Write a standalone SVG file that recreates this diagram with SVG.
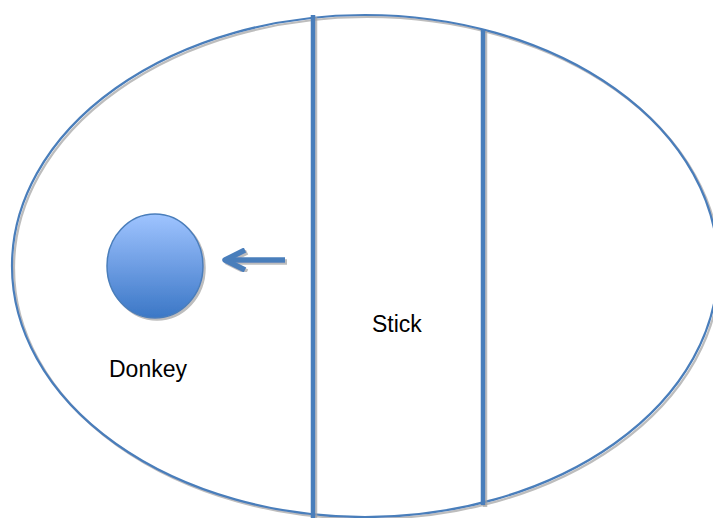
<svg xmlns="http://www.w3.org/2000/svg" width="713" height="518" viewBox="0 0 713 518">
<defs>
<filter id="sh" x="-10%" y="-10%" width="120%" height="120%">
<feGaussianBlur in="SourceAlpha" stdDeviation="0.6"/>
<feOffset dx="2" dy="2" result="o"/>
<feFlood flood-color="#a0a0a0" flood-opacity="0.7"/>
<feComposite in2="o" operator="in"/>
<feMerge><feMergeNode/><feMergeNode in="SourceGraphic"/></feMerge>
</filter>
<linearGradient id="g" x1="0" y1="0" x2="0" y2="1">
<stop offset="0" stop-color="#9fc4ff"/>
<stop offset="0.5" stop-color="#6d9de3"/>
<stop offset="1" stop-color="#3b77c6"/>
</linearGradient>
<style>
.ln{fill:none;stroke:#4a7ebb;stroke-linecap:butt}
.t{font-family:"Liberation Sans",Arial,sans-serif;font-size:23px;fill:#000}
</style>
</defs>
<rect width="713" height="518" fill="#fff"/>
<g id="field" filter="url(#sh)">
<ellipse cx="365" cy="266" rx="353" ry="251" class="ln" stroke-width="2.2"/>
</g>
<g id="stick-lines" filter="url(#sh)">
<line x1="313" y1="15" x2="313" y2="518" class="ln" stroke-width="4.5"/>
<line x1="483" y1="29" x2="483" y2="505" class="ln" stroke-width="4.5"/>
</g>
<g id="donkey">
<ellipse cx="155" cy="266" rx="48" ry="52" fill="url(#g)" stroke="#4a7ebb" stroke-width="1.5" filter="url(#sh)"/>
<text class="t" x="109" y="377">Donkey</text>
</g>
<g id="stick">
<text class="t" x="372" y="332">Stick</text>
</g>
<g id="connectors" filter="url(#sh)">
<path d="M285 260 H226" class="ln" stroke-width="5.5"/>
<path d="M245 250 L225 260 L245 270" class="ln" stroke-width="5.5" stroke-linecap="round" stroke-linejoin="round"/>
</g>
</svg>
